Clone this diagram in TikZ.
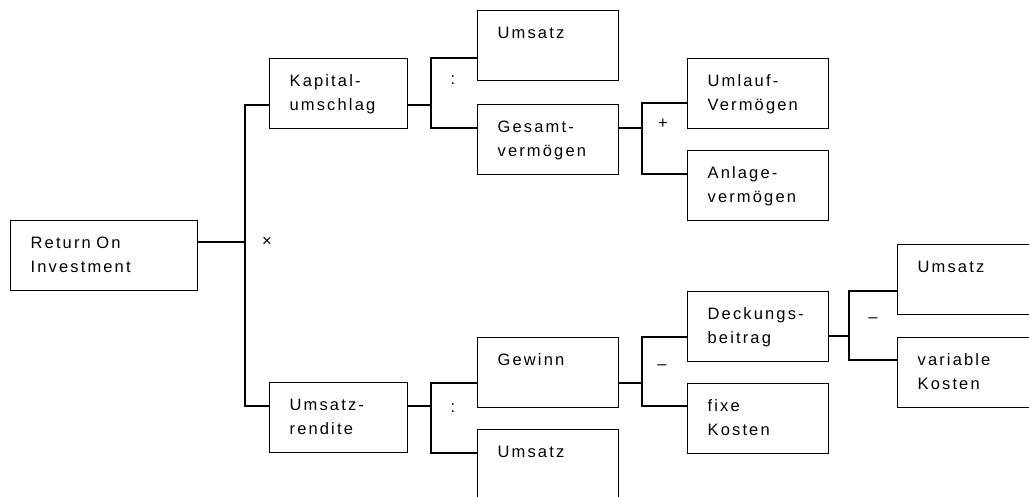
\documentclass[tikz,border=0pt]{standalone}
\usepackage{fontspec}
\setmainfont{Liberation Sans}[LetterSpace=13,WordSpace=1.4]
\begin{document}
\begin{tikzpicture}[x=1pt,y=-1pt,line width=1.3pt,
  box/.style={draw, rectangle, anchor=north west, minimum height=70pt,
    inner xsep=20pt, inner ysep=0pt, align=left,
    font=\fontsize{16.5}{24}\selectfont},
  wbox/.style={box, text width=#1},
  op/.style={inner sep=0pt, font=\fontsize{16.5}{24}\selectfont}]
\useasboundingbox (0,0) rectangle (1029,497);
\fill[white] (0,0) rectangle (1029,497);
\clip (0,0) rectangle (1029,497);
% boxes
\node[wbox=147pt] (roi) at (10,220) {\strut Return On\\\strut Investment};
\node[wbox=98pt] (kap) at (269,58) {\strut Kapital-\\\strut umschlag};
\node[wbox=98pt] (ur) at (269,382) {\strut Umsatz-\\\strut rendite};
\node[wbox=101pt] (ums1) at (477,10) {\strut Umsatz\\\strut};
\node[wbox=101pt] (ges) at (477,104) {\strut Gesamt-\\\strut vermögen};
\node[wbox=101pt] (uml) at (687,58) {\strut Umlauf-\\\strut Vermögen};
\node[wbox=101pt] (anl) at (687,150) {\strut Anlage-\\\strut vermögen};
\node[wbox=101pt] (gew) at (477,337) {\strut Gewinn\\\strut};
\node[wbox=101pt] (ums2) at (477,429) {\strut Umsatz\\\strut};
\node[wbox=101pt] (dek) at (687,291) {\strut Deckungs-\\\strut beitrag};
\node[wbox=101pt] (fix) at (687,383) {\strut fixe\\\strut Kosten};
\node[wbox=120pt] (ums3) at (897,244) {\strut Umsatz\\\strut};
\node[wbox=120pt] (var) at (897,337) {\strut variable\\\strut Kosten};
% junctions
\coordinate (j1) at (245,242);
\coordinate (j2) at (431,105);
\coordinate (j3) at (642,128);
\coordinate (j4) at (431,406);
\coordinate (j5) at (642,383);
\coordinate (j6) at (849,336);
% connectors
\draw ([yshift=-22pt]roi.north east) -- (j1);
\draw ([yshift=-47pt]kap.north west) -| (j1) |- ([yshift=-24pt]ur.north west);
\draw ([yshift=-47pt]kap.north east) -- (j2);
\draw ([yshift=-48pt]ums1.north west) -| (j2) |- ([yshift=-24pt]ges.north west);
\draw ([yshift=-24pt]ges.north east) -- (j3);
\draw ([yshift=-45pt]uml.north west) -| (j3) |- ([yshift=-24pt]anl.north west);
\draw ([yshift=-24pt]ur.north east) -- (j4);
\draw ([yshift=-46pt]gew.north west) -| (j4) |- ([yshift=-24pt]ums2.north west);
\draw ([yshift=-46pt]gew.north east) -- (j5);
\draw ([yshift=-46pt]dek.north west) -| (j5) |- ([yshift=-23pt]fix.north west);
\draw ([yshift=-45pt]dek.north east) -- (j6);
\draw ([yshift=-47pt]ums3.north west) -| (j6) |- ([yshift=-23pt]var.north west);
% operators
\node[op] (o1) at (267,242) {×};
\node[op] (o2) at (453,80) {:};
\node[op] (o3) at (663,124) {+};
\node[op] (o4) at (453,408) {:};
\node[op] (o5) at (662,367) {–};
\node[op] (o6) at (873,320) {–};
\end{tikzpicture}
\end{document}
